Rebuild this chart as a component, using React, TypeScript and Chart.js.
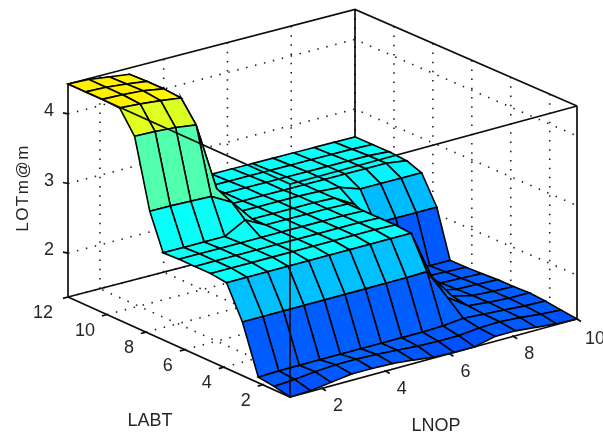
import React, { useEffect, useRef } from "react";
import { Chart, registerables } from "chart.js";

Chart.register(...registerables);

// Grid of the surface
const lnopGrid = [1, 1.643, 2.286, 2.929, 3.571, 4.214, 4.857, 5.5, 6.143, 6.786, 7.429, 8.071, 8.714, 9.357, 10];
const labtGrid = [0.6, 1.414, 2.229, 3.043, 3.857, 4.671, 5.486, 6.3, 7.114, 7.8, 8.58, 9.35, 10.25, 11.1, 12];

// LOTm@m per LABT row (one value per LNOP grid point)
const row00 = [1.37, 1.38, 1.42, 1.46, 1.46, 1.45, 1.42, 1.38, 1.37, 1.37, 1.44, 1.44, 1.41, 1.38, 1.37];
const row01 = [1.42, 1.44, 1.47, 1.49, 1.49, 1.48, 1.46, 1.44, 1.43, 1.43, 1.46, 1.47, 1.45, 1.42, 1.40];
const row02 = [1.45, 1.46, 1.46, 1.46, 1.46, 1.46, 1.46, 1.46, 1.46, 1.47, 1.50, 1.48, 1.46, 1.44, 1.43];
const row03 = [2.14, 2.14, 2.14, 2.14, 2.14, 2.14, 2.14, 2.14, 2.14, 2.15, 1.70, 1.50, 1.47, 1.45, 1.45];
const row04 = [2.60, 2.60, 2.60, 2.60, 2.60, 2.60, 2.60, 2.60, 2.60, 2.60, 1.90, 1.54, 1.47, 1.45, 1.44];
const row05 = [2.63, 2.63, 2.63, 2.63, 2.63, 2.63, 2.63, 2.63, 2.63, 2.62, 2.05, 1.52, 1.46, 1.45, 1.44];
const row06 = [2.63, 2.63, 2.63, 2.63, 2.63, 2.63, 2.63, 2.63, 2.63, 2.62, 2.15, 1.50, 1.45, 1.44, 1.43];
const row07 = [2.63, 2.63, 2.63, 2.63, 2.63, 2.63, 2.63, 2.63, 2.63, 2.62, 2.20, 1.50, 1.44, 1.43, 1.42];
const row08 = [2.62, 2.62, 2.62, 2.62, 2.78, 2.63, 2.63, 2.63, 2.63, 2.62, 2.30, 1.45, 1.43, 1.42, 1.42];
const row09 = [3.13, 3.13, 3.12, 3.11, 2.95, 2.63, 2.63, 2.63, 2.63, 2.62, 2.45, 2.10, 2.10, 2.10, 2.10];
const row10 = [4.11, 4.10, 4.08, 4.04, 3.05, 2.63, 2.63, 2.63, 2.63, 2.62, 2.60, 2.50, 2.50, 2.50, 2.50];
const row11 = [4.42, 4.40, 4.37, 4.33, 3.10, 2.62, 2.62, 2.62, 2.62, 2.62, 2.62, 2.62, 2.62, 2.62, 2.58];
const row12 = [4.43, 4.42, 4.40, 4.35, 3.10, 2.62, 2.62, 2.62, 2.62, 2.62, 2.62, 2.62, 2.62, 2.62, 2.60];
const row13 = [4.43, 4.42, 4.39, 4.35, 3.10, 2.61, 2.61, 2.61, 2.61, 2.61, 2.61, 2.61, 2.61, 2.61, 2.60];
const row14 = [4.43, 4.42, 4.38, 4.34, 3.10, 2.60, 2.60, 2.60, 2.60, 2.60, 2.60, 2.60, 2.60, 2.60, 2.60];
const zRows = [row00, row01, row02, row03, row04, row05, row06, row07, row08, row09, row10, row11, row12, row13, row14];

// Axis ranges and ticks
const lnopRange = [1, 10];
const labtRange = [0.6, 12];
const zRange = [1.37, 4.43];
const lnopTicks = [2, 4, 6, 8, 10];
const labtTicks = [2, 4, 6, 8, 10, 12];
const zTicks = [2, 3, 4];

type P = { x: number; y: number };

// Orthographic-like view of the 3-D box on to the picture plane
function project(l: number, a: number, z: number): P {
  const u = (l - lnopRange[0]) / (lnopRange[1] - lnopRange[0]);
  const v = (a - labtRange[0]) / (labtRange[1] - labtRange[0]);
  const w = (z - zRange[0]) / (zRange[1] - zRange[0]);
  return {
    x: 290 + 287 * u - 222 * v,
    y: 397 - 78 * u - 100 * v + 3.5 * u * v - 213 * w,
  };
}

function jet(z: number): string {
  const t = z / 7 + 0.008;
  const c = (d: number) => Math.round(255 * Math.max(0, Math.min(1, 1.5 - Math.abs(4 * t - d))));
  return `rgb(${c(3)},${c(2)},${c(1)})`;
}

function lineDs(points: P[], opts: any) {
  return { data: points, showLine: true, pointRadius: 0, fill: false, tension: 0, ...opts };
}

function buildDatasets() {
  const out: any[] = [];
  const [l0, l1] = lnopRange;
  const [a0, a1] = labtRange;
  const [z0, z1] = zRange;
  const solid = { borderColor: "#0d0d0d", borderWidth: 1.7 };
  const dotted = { borderColor: "#222222", borderWidth: 1.6, borderDash: [1.5, 7.7] };

  // Front edges of the box, above the surface
  out.push(lineDs([project(l0, a1, z1), project(l0, a0, z1), project(l1, a0, z1)], solid));
  out.push(lineDs([project(l0, a0, z0), project(l0, a0, z1)], solid));

  // Axis lines and tick marks
  out.push(lineDs([project(l0, a1, z0), project(l0, a0, z0), project(l1, a0, z0)], solid));
  lnopTicks.forEach((t) => {
    const p = project(t, a0, z0);
    out.push(lineDs([p, { x: p.x + 4, y: p.y + 2.5 }], solid));
  });
  labtTicks.forEach((t) => {
    const p = project(l0, t, z0);
    out.push(lineDs([p, { x: p.x - 5, y: p.y + 1.4 }], solid));
  });
  zTicks.forEach((t) => {
    const p = project(l0, a1, t);
    out.push(lineDs([p, { x: p.x - 5, y: p.y - 1 }], solid));
  });

  // Surface patches, nearest first (the first dataset is painted last)
  for (let j = 0; j < labtGrid.length - 1; j++) {
    for (let i = 0; i < lnopGrid.length - 1; i++) {
      const a = project(lnopGrid[i], labtGrid[j], zRows[j][i]);
      const b = project(lnopGrid[i + 1], labtGrid[j], zRows[j][i + 1]);
      const c = project(lnopGrid[i + 1], labtGrid[j + 1], zRows[j + 1][i + 1]);
      const d = project(lnopGrid[i], labtGrid[j + 1], zRows[j + 1][i]);
      out.push(
        lineDs([a, b, c, d, a], {
          fill: "shape",
          backgroundColor: jet(zRows[j][i]),
          borderColor: "#000000",
          borderWidth: 1.6,
        }),
      );
    }
  }

  // Back edges of the box
  out.push(lineDs([project(l0, a1, z0), project(l1, a1, z0), project(l1, a0, z0)], solid));
  out.push(lineDs([project(l0, a1, z1), project(l1, a1, z1), project(l1, a0, z1)], solid));
  out.push(lineDs([project(l0, a1, z0), project(l0, a1, z1)], solid));
  out.push(lineDs([project(l1, a1, z0), project(l1, a1, z1)], solid));
  out.push(lineDs([project(l1, a0, z0), project(l1, a0, z1)], solid));

  // Dotted grid on the two back walls and the floor
  lnopTicks.forEach((t) => {
    out.push(lineDs([project(t, a1, z0), project(t, a1, z1)], dotted));
    out.push(lineDs([project(t, a0, z0), project(t, a1, z0)], dotted));
  });
  labtTicks.forEach((t) => {
    out.push(lineDs([project(l1, t, z0), project(l1, t, z1)], dotted));
    out.push(lineDs([project(l0, t, z0), project(l1, t, z0)], dotted));
  });
  zTicks.forEach((t) => {
    out.push(lineDs([project(l0, a1, t), project(l1, a1, t), project(l1, a0, t)], dotted));
  });
  return out;
}

const textPlugin = {
  id: "axisText",
  afterDraw(chart: any) {
    const ctx = chart.ctx;
    ctx.save();
    ctx.fillStyle = "#262626";
    ctx.textAlign = "center";
    ctx.textBaseline = "middle";
    ctx.font = '18px "Liberation Sans"';
    lnopTicks.forEach((t) => {
      const p = project(t, labtRange[0], zRange[0]);
      ctx.fillText(String(t), p.x + (t === 10 ? 18 : 16), p.y + (t === 10 ? 20 : 18));
    });
    labtTicks.forEach((t) => {
      const p = project(lnopRange[0], t, zRange[0]);
      ctx.fillText(String(t), p.x + (t === 12 ? -25 : t === 10 ? -22 : -17), p.y + 16);
    });
    zTicks.forEach((t) => {
      const p = project(lnopRange[0], labtRange[1], t);
      ctx.fillText(String(t), 49, p.y - 3);
    });
    ctx.font = '18px "Liberation Sans"';
    ctx.fillText("LABT", 150, 421);
    ctx.fillText("LNOP", 436, 426);
    ctx.save();
    ctx.translate(23, 188);
    ctx.rotate(-Math.PI / 2);
    ctx.font = '17px "Liberation Sans"';
    (ctx as any).letterSpacing = "1.5px";
    ctx.fillText("LOTm@m", 0, 0);
    ctx.restore();
    ctx.restore();
  },
};

export default function App() {
  const ref = useRef<HTMLCanvasElement | null>(null);
  useEffect(() => {
    if (!ref.current) return;
    const chart = new Chart(ref.current, {
      type: "scatter",
      data: { datasets: buildDatasets() },
      options: {
        animation: false,
        responsive: false,
        devicePixelRatio: 1,
        layout: { padding: 0 },
        plugins: { legend: { display: false }, tooltip: { enabled: false }, title: { display: false } },
        scales: {
          x: { type: "linear", min: 0, max: 603, display: false },
          y: { type: "linear", min: 0, max: 435, reverse: true, display: false },
        },
      },
      plugins: [textPlugin],
    } as any);
    return () => chart.destroy();
  }, []);
  return (
    <div style={{ position: "fixed", left: 0, top: 0, width: 603, height: 435, background: "#fff" }}>
      <canvas ref={ref} width={603} height={435} style={{ display: "block", filter: "blur(0.5px)" }} />
    </div>
  );
}
